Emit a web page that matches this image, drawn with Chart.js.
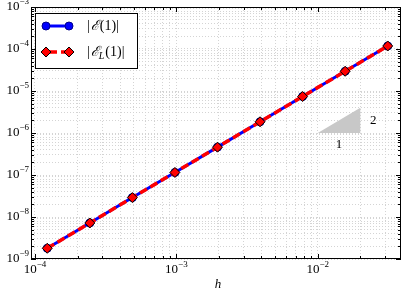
<!DOCTYPE html>
<html>
<head>
<meta charset="utf-8">
<script src="https://cdn.jsdelivr.net/npm/chart.js@4/dist/chart.umd.min.js"></script>
<style>
  html, body { margin: 0; padding: 0; background: #fff; }
  #wrap { width: 407px; height: 292px; }
</style>
</head>
<body>
<div id="wrap"><canvas id="chart" width="407" height="292"></canvas></div>
<script>
// mesh sizes and errors
const hValues = [1.2207e-4, 2.4414e-4, 4.8828e-4, 9.7656e-4, 1.9531e-3, 3.9063e-3, 7.8125e-3, 1.5625e-2, 3.125e-2];
const errExact = [1.8e-9, 7.2e-9, 2.9e-8, 1.15e-7, 4.6e-7, 1.85e-6, 7.4e-6, 2.95e-5, 1.18e-4];
const errLocal = [1.8e-9, 7.2e-9, 2.9e-8, 1.15e-7, 4.6e-7, 1.85e-6, 7.4e-6, 2.95e-5, 1.18e-4];

const xTickExps = [-4, -3, -2];
const yTickExps = [-9, -8, -7, -6, -5, -4, -3];

// slope triangle
const slopeX = [0.01, 0.02, 0.02];
const slopeY = [1e-6, 1e-6, 4e-6];
const slopeRun = '1';
const slopeRise = '2';

const xTitle = 'h';

const FONT = '"Liberation Serif", "DejaVu Serif", serif';

function mantissa(v) {
    const e = Math.floor(Math.log10(v) + 1e-9);
    return v / Math.pow(10, e);
}

function keepIntegerTicks(scale) {
    scale.ticks = scale.ticks.filter(t => {
        const m = mantissa(t.value);
        return Math.abs(m - Math.round(m)) < 0.01 && t.value >= scale.min * 0.999 && t.value <= scale.max * 1.001;
    });
}

function drawPower(ctx, exp, x, y, align) {
    ctx.font = '13px ' + FONT;
    const base = '10';
    const bw = ctx.measureText(base).width;
    ctx.font = '9px ' + FONT;
    const sup = '\u2212' + Math.abs(exp);
    const sw = ctx.measureText(sup).width;
    const total = bw + sw;
    let left = align === 'center' ? x - total / 2 : x - total;
    ctx.fillStyle = '#000';
    ctx.textBaseline = 'middle';
    ctx.textAlign = 'left';
    ctx.font = '13px ' + FONT;
    ctx.fillText(base, left, y);
    ctx.font = '9px ' + FONT;
    ctx.fillText(sup, left + bw, y - 5);
}

const decorations = {
    id: 'decorations',
    beforeDatasetsDraw(chart) {
        const { ctx, scales: { x, y } } = chart;
        ctx.save();
        ctx.beginPath();
        slopeX.forEach((v, i) => {
            const px = x.getPixelForValue(v), py = y.getPixelForValue(slopeY[i]);
            if (i === 0) ctx.moveTo(px, py); else ctx.lineTo(px, py);
        });
        ctx.closePath();
        ctx.fillStyle = '#c8c8c8';
        ctx.fill();
        ctx.fillStyle = '#000';
        ctx.font = '13px ' + FONT;
        ctx.textAlign = 'center';
        ctx.textBaseline = 'middle';
        const midX = x.getPixelForValue(Math.sqrt(slopeX[0] * slopeX[1]));
        ctx.fillText(slopeRun, midX, y.getPixelForValue(slopeY[0]) + 12);
        const midY = y.getPixelForValue(Math.sqrt(slopeY[1] * slopeY[2]));
        ctx.fillText(slopeRise, x.getPixelForValue(slopeX[2]) + 13, midY);
        ctx.restore();
    },
    afterDraw(chart) {
        const { ctx, chartArea: a, scales: { x, y } } = chart;
        ctx.save();
        // frame
        ctx.strokeStyle = '#000';
        ctx.lineWidth = 1;
        ctx.strokeRect(a.left + 0.5, a.top + 0.5, a.right - a.left - 1, a.bottom - a.top - 1);

        // inward ticks on all four sides
        ctx.beginPath();
        x.ticks.forEach(t => {
            const px = Math.round(x.getPixelForValue(t.value)) + 0.5;
            const len = Math.abs(mantissa(t.value) - 1) < 0.01 ? 5 : 3;
            ctx.moveTo(px, a.bottom); ctx.lineTo(px, a.bottom - len);
            ctx.moveTo(px, a.top); ctx.lineTo(px, a.top + len);
        });
        y.ticks.forEach(t => {
            const py = Math.round(y.getPixelForValue(t.value)) + 0.5;
            const len = Math.abs(mantissa(t.value) - 1) < 0.01 ? 5 : 3;
            ctx.moveTo(a.left, py); ctx.lineTo(a.left + len, py);
            ctx.moveTo(a.right, py); ctx.lineTo(a.right - len, py);
        });
        ctx.stroke();

        // tick labels
        xTickExps.forEach(e => drawPower(ctx, e, x.getPixelForValue(Math.pow(10, e)), a.bottom + 11, 'center'));
        yTickExps.forEach(e => drawPower(ctx, e, a.left - 2, y.getPixelForValue(Math.pow(10, e)), 'right'));

        // axis title
        ctx.font = 'italic 13px ' + FONT;
        ctx.textAlign = 'center';
        ctx.textBaseline = 'middle';
        ctx.fillText(xTitle, (a.left + a.right) / 2 + 2, 285);

        // legend
        const lx = a.left + 4, ly = a.top + 6, lw = 102, lh = 55;
        ctx.fillStyle = '#fff';
        ctx.fillRect(lx, ly, lw, lh);
        ctx.strokeStyle = '#000';
        ctx.strokeRect(lx + 0.5, ly + 0.5, lw, lh);

        const ds = chart.data.datasets;
        const rows = [ly + 13, ly + 39];
        const x0 = lx + 11, x1 = lx + 34;
        // row 1: blue line with circles
        ctx.strokeStyle = ds[0].borderColor;
        ctx.lineWidth = ds[0].borderWidth;
        ctx.setLineDash([]);
        ctx.beginPath(); ctx.moveTo(x0, rows[0]); ctx.lineTo(x1, rows[0]); ctx.stroke();
        [x0, x1].forEach(px => {
            ctx.beginPath();
            ctx.arc(px, rows[0], ds[0].pointRadius, 0, Math.PI * 2);
            ctx.fillStyle = ds[0].pointBackgroundColor;
            ctx.fill();
            ctx.lineWidth = 1;
            ctx.strokeStyle = ds[0].pointBorderColor;
            ctx.stroke();
        });
        // row 2: red dashed with diamonds
        ctx.strokeStyle = ds[1].borderColor;
        ctx.lineWidth = ds[1].borderWidth;
        ctx.setLineDash([7, 4]);
        ctx.beginPath(); ctx.moveTo(x0 + 4, rows[1]); ctx.lineTo(x1, rows[1]); ctx.stroke();
        ctx.setLineDash([]);
        [x0, x1].forEach(px => {
            const r = ds[1].pointRadius;
            ctx.beginPath();
            ctx.moveTo(px, rows[1] - r); ctx.lineTo(px + r, rows[1]);
            ctx.lineTo(px, rows[1] + r); ctx.lineTo(px - r, rows[1]);
            ctx.closePath();
            ctx.fillStyle = ds[1].pointBackgroundColor;
            ctx.fill();
            ctx.lineWidth = 1;
            ctx.strokeStyle = ds[1].pointBorderColor;
            ctx.stroke();
        });

        // legend text
        ctx.fillStyle = '#000';
        ctx.textAlign = 'left';
        ctx.textBaseline = 'middle';
        const tx = lx + 52;
        function piece(txt, font, px, py) {
            ctx.font = font;
            ctx.fillText(txt, px, py);
            return px + ctx.measureText(txt).width;
        }
        let px = tx;
        px = piece('|', '14px ' + FONT, px, rows[0]);
        px = piece('\u2130', 'italic 14px ' + FONT, px + 1, rows[0]);
        px = piece('(1)|', '14px ' + FONT, px + 1, rows[0]);
        px = tx;
        px = piece('|', '14px ' + FONT, px, rows[1]);
        px = piece('\u2130', 'italic 14px ' + FONT, px + 1, rows[1]);
        px = piece('L', 'italic 10px ' + FONT, px, rows[1] + 4);
        px = piece('(1)|', '14px ' + FONT, px + 1, rows[1]);
        ctx.restore();
    }
};

const gridOpts = { color: '#d4d4d4', lineWidth: 1, drawTicks: false };

new Chart(document.getElementById('chart'), {
    type: 'line',
    data: {
        labels: hValues,
        datasets: [
            {
                label: '|\u2130(1)|',
                data: hValues.map((h, i) => ({ x: h, y: errExact[i] })),
                borderColor: '#0000ff',
                borderWidth: 3,
                pointRadius: 4,
                pointBackgroundColor: '#0000ff',
                pointBorderColor: '#00008b',
                pointBorderWidth: 1,
                tension: 0,
                order: 2
            },
            {
                label: '|\u2130L(1)|',
                data: hValues.map((h, i) => ({ x: h, y: errLocal[i] })),
                borderColor: '#ff0000',
                borderWidth: 3.5,
                borderDash: [8, 4],
                pointStyle: 'rectRot',
                pointRadius: 5,
                pointBackgroundColor: '#ff0000',
                pointBorderColor: '#000000',
                pointBorderWidth: 1,
                tension: 0,
                order: 1
            }
        ]
    },
    options: {
        responsive: false,
        animation: false,
        devicePixelRatio: 1,
        layout: { padding: { top: 7, right: 3, left: 0, bottom: 0 } },
        plugins: { legend: { display: false }, tooltip: { enabled: false } },
        scales: {
            x: {
                type: 'logarithmic',
                min: 9.37e-5,
                max: 0.0388,
                grid: { ...gridOpts },
                border: { display: false, dash: [1, 2] },
                ticks: { display: false },
                afterBuildTicks: keepIntegerTicks,
                afterFit(scale) { scale.height = 33; }
            },
            y: {
                type: 'logarithmic',
                min: 1e-9,
                max: 1e-3,
                grid: { ...gridOpts },
                border: { display: false, dash: [1, 2] },
                ticks: { display: false },
                afterBuildTicks: keepIntegerTicks,
                afterFit(scale) { scale.width = 31; }
            }
        }
    },
    plugins: [decorations]
});
</script>
</body>
</html>
